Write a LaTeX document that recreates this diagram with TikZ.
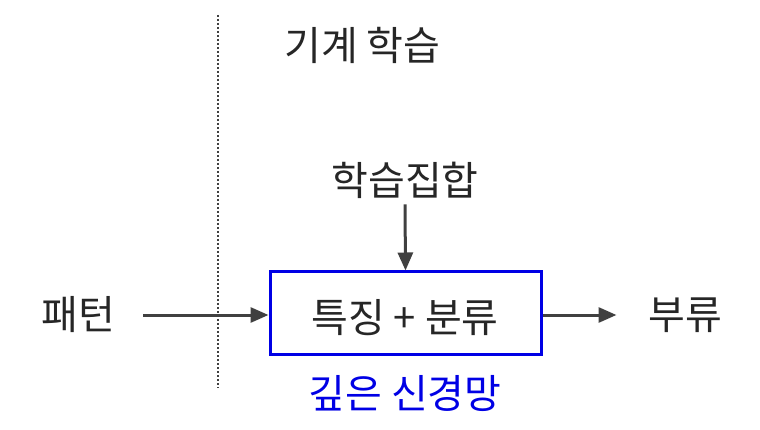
\documentclass[tikz,border=0pt]{standalone}
\usepackage{fontspec}
\newfontfamily\cjk{Noto Sans CJK KR}
\usetikzlibrary{arrows.meta}
\begin{document}
\begin{tikzpicture}[x=1pt,y=-1pt,
  lbl/.style={font=\cjk\fontsize{40}{44}\selectfont, text=black!85, inner sep=0},
  arr/.style={draw=black!75, line width=3pt, -{Triangle[length=18pt,width=15pt]}}]
\useasboundingbox (0,0) rectangle (760,430);
\coordinate (dt) at (218,15); \coordinate (db) at (218,388);
\draw[dotted, line width=2pt, black!75] (dt) -- (db);
\node[lbl, anchor=west] (ml) at (284,45) {기계 학습};
\node[lbl] (ts) at (405,180) {학습집합};
\node[draw=blue!90!black, line width=3pt, minimum width=271pt, minimum height=82pt, inner sep=0] (box) at (405.5,313) {};
\node[lbl] (fc) at (405,318) {특징 + 분류};
\node[lbl] (pt) at (78,315) {패턴};
\node[lbl] (cl) at (685,315) {부류};
\node[lbl, text=blue!90!black] (dn) at (405,393) {깊은 신경망};
\coordinate (ps) at (143,315);
\draw[arr] (ts.south) ++(0,6) -- (box.north);
\draw[arr] (ps) -- (box.west |- ps);
\draw[arr] (box.east |- ps) -- ++(74,0);
\end{tikzpicture}
\end{document}
